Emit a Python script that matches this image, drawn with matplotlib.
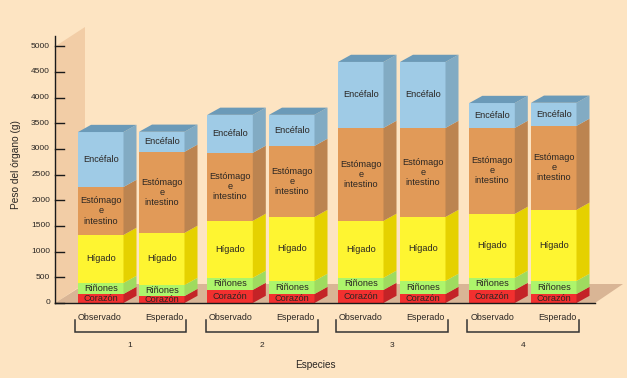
import matplotlib
matplotlib.use("Agg")
import matplotlib.pyplot as plt
from matplotlib.patches import Polygon

plt.rcParams['font.family'] = ['Liberation Sans', 'DejaVu Sans']

organs = ["Corazón", "Riñones", "Hígado", "Estómago\ne\nintestino", "Encéfalo"]
species = ["1", "2", "3", "4"]
kinds = ["Observado", "Esperado"]
corazon = [175, 135, 255, 175, 255, 175, 255, 175]
rinones = [215, 215, 235, 255, 235, 255, 235, 255]
higado = [935, 1015, 1110, 1245, 1110, 1245, 1245, 1385]
estomago = [935, 1580, 1325, 1385, 1810, 1735, 1675, 1635]
encefalo = [1070, 390, 740, 605, 1285, 1285, 485, 450]
series = [corazon, rinones, higado, estomago, encefalo]
yticks = [0, 500, 1000, 1500, 2000, 2500, 3000, 3500, 4000, 4500, 5000]

front = ["#F2302F", "#ADF56B", "#FEF531", "#E19A58", "#9FCBE6"]
side = ["#C42327", "#9FDB5F", "#E5D100", "#BC8450", "#82ABC3"]
top_col = "#6B9AB8"
bg = "#FDE4C2"
txt = "#2A2623"

PX = 0.05134  # pixels per gram
fig = plt.figure(figsize=(6.27, 3.78), dpi=100, facecolor=bg)
ax = fig.add_axes([0, 0, 1, 1])
ax.set_xlim(0, 627)
ax.set_ylim(-75 / PX, 303 / PX)
ax.axis("off")

py = lambda p: (303 - p) / PX  # pixel row to data

# wall and floor
ax.add_patch(Polygon([(55, py(46.5)), (85, py(27)), (85, py(283)), (55, py(303))],
                     fc="#F2CDA6", ec="none", zorder=1))
ax.add_patch(Polygon([(55, py(303)), (85, py(284)), (623, py(284)), (595, py(303))],
                     fc="#D9B595", ec="none", zorder=1))

lefts = [78, 139, 207.3, 269, 338, 400, 469.3, 531]
kind_x = [100, 164, 231, 295, 361, 425, 493, 557]
bracket_a = [74.5, 206, 336, 467]
bracket_b = [185.5, 317.5, 448, 579]
w = 45.5
dx, dy = 13, 7.2 / PX

for i, x in enumerate(lefts):
    base = 0
    for s in range(5):
        v = series[s][i]
        ax.bar(x, v, width=w, bottom=base, align="edge", color=front[s], lw=0, zorder=3)
        ax.add_patch(Polygon([(x + w, base), (x + w + dx, base + dy),
                              (x + w + dx, base + v + dy), (x + w, base + v)],
                             fc=side[s], ec="none", zorder=3))
        ax.text(x + w / 2, base + v / 2, organs[s], ha="center", va="center",
                fontsize=6.6, color=txt, zorder=5, linespacing=1.15)
        base += v
    ax.add_patch(Polygon([(x, base), (x + dx, base + dy), (x + w + dx, base + dy), (x + w, base)],
                         fc=top_col, ec="none", zorder=3))
    ax.text(kind_x[i], py(317.5), kinds[i % 2], ha="center", va="center",
            fontsize=6.4, color=txt, zorder=5)

# axis lines
ax.plot([54.5, 54.5], [0, py(36)], color="#1A1A1A", lw=1, zorder=6)
ax.plot([54.5, 595], [0, 0], color="#1A1A1A", lw=1, zorder=6)
for t in yticks:
    ax.plot([54.5, 63.5], [t, t], color="#1A1A1A", lw=1, zorder=6)
    ax.text(50, t, str(t), ha="right", va="center", fontsize=6, color=txt)

# brackets
for g, lab in enumerate(species):
    a, b = bracket_a[g], bracket_b[g]
    ax.plot([a, a, b, b], [py(320), py(332), py(332), py(320)], color="#333333", lw=1.1,
            solid_joinstyle="miter", zorder=6)
    ax.text((a + b) / 2, py(345.5), lab, ha="center", va="center", fontsize=6, color=txt)

ax.text(315, py(364.5), "Especies", ha="center", va="center", fontsize=7.2, color=txt)
ax.text(16, py(165), "Peso del órgano (g)", rotation=90, ha="center", va="center",
        fontsize=7.3, color=txt)

fig.savefig("out.png", dpi=100, facecolor=bg)
